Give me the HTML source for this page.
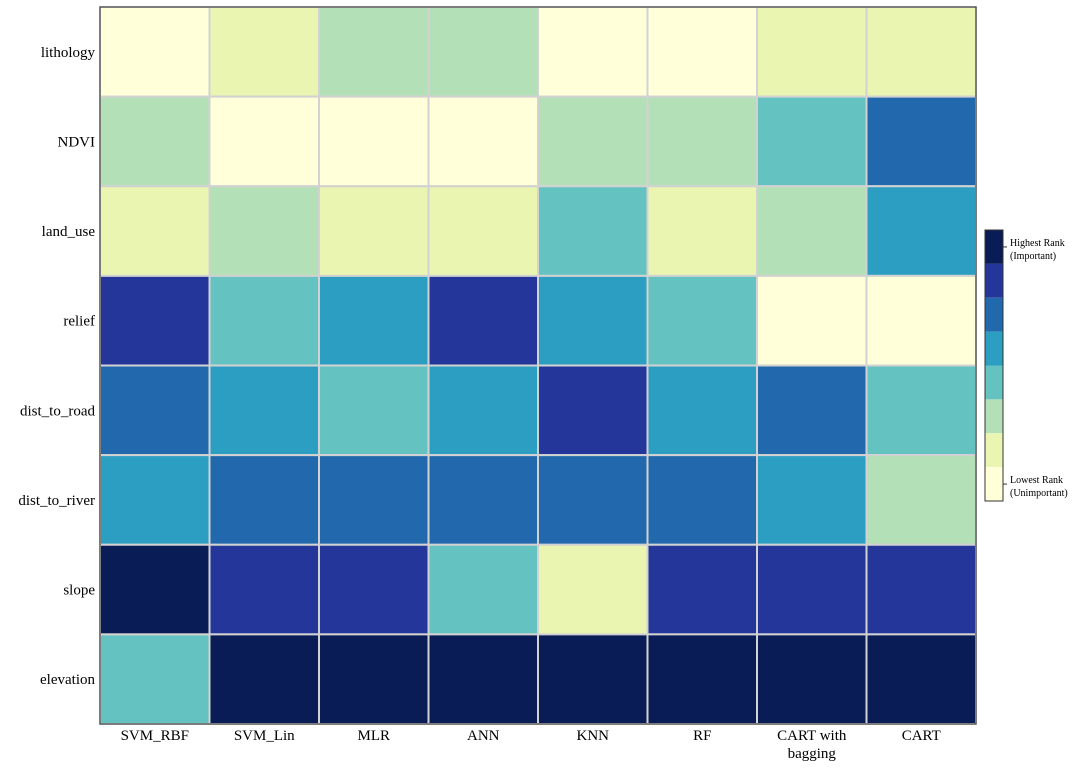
<!DOCTYPE html>
<html><head><meta charset="utf-8"><style>
body{margin:0;background:#fff;}
svg text{font-family:"Liberation Serif",serif;fill:#000;}
</style></head><body>
<svg id="chart" width="1080" height="769" xmlns="http://www.w3.org/2000/svg">
<g id="cells"></g>
<g id="labels"></g>
<g id="cbar"></g>
</svg>
<script>
const models = ["SVM_RBF","SVM_Lin","MLR","ANN","KNN","RF","CART with|bagging","CART"];
const factors = ["lithology","NDVI","land_use","relief","dist_to_road","dist_to_river","slope","elevation"];
const rankLithology = [8,7,6,6,8,8,7,7];
const rankNDVI = [6,8,8,8,6,6,5,3];
const rankLandUse = [7,6,7,7,5,7,6,4];
const rankRelief = [2,5,4,2,4,5,8,8];
const rankRoad = [3,4,5,4,2,4,3,5];
const rankRiver = [4,3,3,3,3,3,4,6];
const rankSlope = [1,2,2,5,7,2,2,2];
const rankElevation = [5,1,1,1,1,1,1,1];
const ranks = [rankLithology,rankNDVI,rankLandUse,rankRelief,rankRoad,rankRiver,rankSlope,rankElevation];
const palette = ["#0a1c55","#24369a","#2169ac","#2c9ec2","#64c3c0","#b4e0b7","#e9f5b0","#ffffd9"];

const NS="http://www.w3.org/2000/svg";
const X0=100,X1=976,Y0=7,Y1=724;
const cw=(X1-X0)/models.length, ch=(Y1-Y0)/factors.length;
const xPos=i=>X0+i*cw, yPos=j=>Y0+j*ch;
function mk(tag,attrs,parent){const e=document.createElementNS(NS,tag);for(const k in attrs)e.setAttribute(k,attrs[k]);parent.appendChild(e);return e;}
const cells=document.getElementById('cells'),labels=document.getElementById('labels'),cbar=document.getElementById('cbar');
ranks.forEach((row,j)=>row.forEach((r,i)=>{
  const el=mk('rect',{x:xPos(i),y:yPos(j),width:cw,height:ch,fill:palette[r-1],stroke:"#d2d2d2","stroke-width":2},cells);
  
  
}));
const frame=mk('rect',{x:X0,y:Y0,width:X1-X0,height:Y1-Y0,fill:"none",stroke:"#444","stroke-width":1.2},cells);


factors.forEach((f,j)=>{
  const t=mk('text',{x:95,y:yPos(j)+ch/2+5,"text-anchor":"end","font-size":15},labels);
  t.textContent=f;
  
  
});
models.forEach((m,i)=>{
  const parts=m.split('|');
  parts.forEach((p,k)=>{
    const t=mk('text',{x:xPos(i)+cw/2,y:740+k*18,"text-anchor":"middle","font-size":15},labels);
    t.textContent=p;
    
    
  });
});
const CB0=230,CB1=501,segH=(CB1-CB0)/palette.length;
palette.forEach((c,k)=>{
  const el=mk('rect',{x:985,y:CB0+k*segH,width:18,height:segH,fill:c},cbar);
  
  
});
const cbf=mk('rect',{x:985,y:CB0,width:18,height:CB1-CB0,fill:"none",stroke:"#333","stroke-width":1},cbar);


[[CB0+segH/2,"Highest Rank","(Important)"],[CB1-segH/2,"Lowest Rank","(Unimportant)"]].forEach(([y,a,b],k)=>{
  mk('line',{x1:1003,x2:1007,y1:y,y2:y,stroke:"#333"},cbar);
  const t1=mk('text',{x:1010,y:y-1,"font-size":10},cbar);t1.textContent=a;
  
  
  const t2=mk('text',{x:1010,y:y+12,"font-size":10},cbar);t2.textContent=b;
  
  
});
</script>
</body></html>
